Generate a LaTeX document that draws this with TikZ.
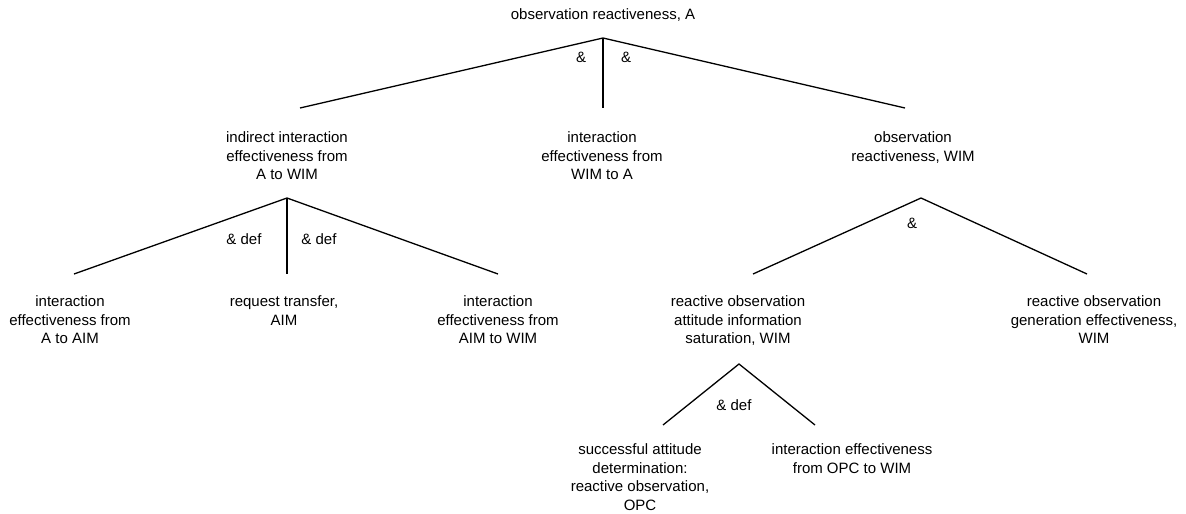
\documentclass[tikz,border=0pt]{standalone}
\usepackage{fontspec}
\setmainfont{Liberation Sans}
\begin{document}
\begin{tikzpicture}[x=1pt,y=-1pt,
  lbl/.style={inner sep=0pt,font=\fontsize{15}{18.5}\selectfont},
  txt/.style={lbl,align=center,anchor=north},
  edge/.style={line width=1.3pt,line cap=butt,line join=miter}]
\useasboundingbox (0,0) rectangle (1186,514);
\newcommand{\fl}{\rule{0pt}{12pt}}
% nodes
\node[txt] (root) at (603,7.5) {\fl observation reactiveness, A};
\node[txt] (ind) at (287,130.5) {\fl indirect interaction\\effectiveness from\\A to WIM};
\node[txt] (iwa) at (602,130.5) {\fl interaction\\effectiveness from\\WIM to A};
\node[txt] (orw) at (913,130.5) {\fl observation\\reactiveness, WIM};
\node[txt] (iaa) at (70,294.5) {\fl interaction\\effectiveness from\\A to AIM};
\node[txt] (rta) at (284,294.5) {\fl request transfer,\\AIM};
\node[txt] (iaw) at (498,294.5) {\fl interaction\\effectiveness from\\AIM to WIM};
\node[txt] (roa) at (738,294.5) {\fl reactive observation\\attitude information\\saturation, WIM};
\node[txt] (rog) at (1094,294.5) {\fl reactive observation\\generation effectiveness,\\WIM};
\node[txt] (sad) at (640,442.5) {\fl successful attitude\\determination:\\reactive observation,\\OPC};
\node[txt] (iow) at (852,442.5) {\fl interaction effectiveness\\from OPC to WIM};
% apexes and ends
\coordinate (root-a) at (603,38);
\coordinate (ind-t) at (300,108);
\coordinate (iwa-t) at (603,108);
\coordinate (orw-t) at (905,108);
\coordinate (ind-a) at (287,198);
\coordinate (iaa-t) at (74,274);
\coordinate (rta-t) at (287,274);
\coordinate (iaw-t) at (498,274);
\coordinate (orw-a) at (921,198);
\coordinate (roa-t) at (753,274);
\coordinate (rog-t) at (1087,274);
\coordinate (roa-a) at (739,364);
\coordinate (sad-t) at (663,425);
\coordinate (iow-t) at (815,425);
% connectors
\draw[edge] (ind-t) -- (root-a) -- (orw-t);
\draw[edge] (root-a) -- (iwa-t);
\draw[edge] (iaa-t) -- (ind-a) -- (iaw-t);
\draw[edge] (ind-a) -- (rta-t);
\draw[edge] (roa-t) -- (orw-a) -- (rog-t);
\draw[edge] (sad-t) -- (roa-a) -- (iow-t);
% labels
\node[lbl] (and1) at (581,57) {\&};
\node[lbl] (and2) at (626,57) {\&};
\node[lbl] (def1) at (244,239) {\& def};
\node[lbl] (def2) at (319,239) {\& def};
\node[lbl] (and3) at (912,223) {\&};
\node[lbl] (def3) at (734,405) {\& def};
\end{tikzpicture}
\end{document}
